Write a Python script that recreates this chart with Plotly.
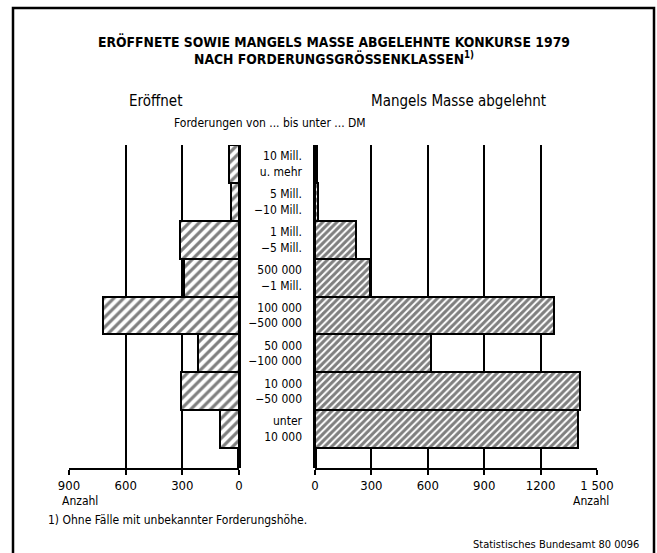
import plotly.graph_objects as go

W, H = 657, 553

# Forderungsgrößenklassen, top to bottom as in the chart
klassen = ["10 Mill.<br>u. mehr", "5 Mill.<br>−10 Mill.", "1 Mill.<br>−5 Mill.",
           "500 000<br>−1 Mill.", "100 000<br>−500 000", "50 000<br>−100 000",
           "10 000<br>−50 000", "unter<br>10 000"]
eroeffnet = [52, 45, 310, 293, 721, 216, 307, 103]
mangels_masse = [10, 15, 216, 292, 1272, 617, 1409, 1400]

left_ticks = [900, 600, 300, 0]
right_ticks = [0, 300, 600, 900, 1200, 1500]
right_ticktext = ["0", "300", "600", "900", "1200", "1 500"]

FONT = "Liberation Sans Narrow, DejaVu Sans Condensed, Arial Narrow, sans-serif"


def fx(x):  # pixel -> paper x
    return x / W


def fy(y):  # pixel -> paper y
    return 1 - y / H


fig = go.Figure()

bar_line = dict(color="black", width=2)
fig.add_trace(go.Bar(
    x=eroeffnet, y=klassen, orientation="h", xaxis="x", yaxis="y",
    marker=dict(color="white", line=bar_line,
                pattern=dict(shape="/", fgcolor="black", bgcolor="white",
                             size=7, solidity=0.45)),
    showlegend=False, hoverinfo="x+y"))
fig.add_trace(go.Bar(
    x=mangels_masse, y=klassen, orientation="h", xaxis="x2", yaxis="y2",
    marker=dict(color="white", line=bar_line,
                pattern=dict(shape="/", fgcolor="black", bgcolor="white",
                             size=5, solidity=0.6)),
    showlegend=False, hoverinfo="x+y"))

# vertical extent: bars 145..448 px, axis line at 468 px
bar_h = (448 - 145) / 8
y_bottom = 7.5 + (468 - 448) / bar_h
ydom = [fy(468), fy(145)]

tickfont = dict(family=FONT, size=13, color="black")
xcommon = dict(showgrid=True, gridcolor="black", gridwidth=1.5,
               zeroline=True, zerolinecolor="black", zerolinewidth=3.5,
               showline=True, linecolor="black", linewidth=1.5,
               ticks="outside", ticklen=5, tickwidth=1.5, tickcolor="black",
               tickfont=tickfont, automargin=False, fixedrange=True)

fig.update_layout(
    width=W, height=H, autosize=False,
    margin=dict(l=0, r=0, t=0, b=0),
    paper_bgcolor="white", plot_bgcolor="white",
    bargap=0,
    font=dict(family=FONT, color="black"),
    xaxis=dict(domain=[fx(69), fx(239)], range=[900, 0], anchor="y",
               tickvals=left_ticks, ticktext=[str(v) for v in left_ticks], **xcommon),
    xaxis2=dict(domain=[fx(315), fx(597)], range=[0, 1500], anchor="y2",
                tickvals=right_ticks, ticktext=right_ticktext, **xcommon),
    yaxis=dict(domain=ydom, range=[y_bottom, -0.5], anchor="x",
               showgrid=False, zeroline=False, showticklabels=False,
               automargin=False, fixedrange=True),
    yaxis2=dict(domain=ydom, range=[y_bottom, -0.5], anchor="x2",
                showgrid=False, zeroline=False, showticklabels=True,
                ticks="", ticklabelstandoff=12, automargin=False,
                tickfont=dict(family=FONT, size=12, color="black"), fixedrange=True),
)

# frame around the whole chart
fig.add_shape(type="rect", xref="paper", yref="paper",
              x0=fx(13), x1=fx(654), y0=fy(560), y1=fy(8),
              line=dict(color="black", width=2.5), fillcolor="rgba(0,0,0,0)")


def note(text, x, y, size, xanchor="center", bold=False):
    fig.add_annotation(text=f"<b>{text}</b>" if bold else text,
                       xref="paper", yref="paper", x=fx(x), y=fy(y),
                       xanchor=xanchor, yanchor="middle", showarrow=False,
                       font=dict(family=FONT, size=size, color="black"))


note("ERÖFFNETE SOWIE MANGELS MASSE ABGELEHNTE KONKURSE 1979", 334, 42, 13.8, bold=True)
note("NACH FORDERUNGSGRÖSSENKLASSEN<sup>1)</sup>", 334, 58, 13.8, bold=True)
note("Eröffnet", 155, 101, 15)
note("Mangels Masse abgelehnt", 458, 101, 15)
note("Forderungen von ... bis unter ... DM", 270, 123, 12)
note("Anzahl", 60, 501, 12, xanchor="left")
note("Anzahl", 611, 501, 12, xanchor="right")
note("1) Ohne Fälle mit unbekannter Forderungshöhe.", 46, 520, 12, xanchor="left")
note("Statistisches Bundesamt 80 0096", 641, 544, 11, xanchor="right")

# drop the default page margin so the 657x553 figure fills the window exactly
fig.write_html("out.html", config={"displayModeBar": False},
               post_script="document.body.style.margin='0';"
                           "document.body.style.overflow='hidden';")
